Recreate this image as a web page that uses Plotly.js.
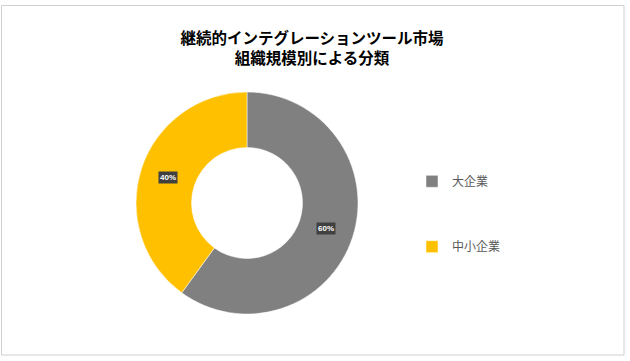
<!DOCTYPE html>
<html>
<head>
<meta charset="utf-8">
<script src="https://cdn.plot.ly/plotly-3.0.1.min.js"></script>
<style>html,body{margin:0;padding:0;background:#fff;}#chart{width:630px;height:361px;}</style>
</head>
<body>
<div id="chart"></div>
<script>
// Data
const categories = ['大企業', '中小企業'];
const shares = [60, 40];
const sliceColors = ['#808080', '#FFC000'];
const chartTitle = '継続的インテグレーションツール市場<br>組織規模別による分類';

// Geometry (pixels)
const W = 630, H = 361;
const cx = 247, cy = 203, R = 111, holeFrac = 0.5;

// Legend entries: pad labels so entries are spaced like the reference
const legendLabels = categories.map(c => c + '<br> <br> <br> ');

// Data-label annotations positioned from the values (mid-angle of each slice, mid-ring radius)
const total = shares.reduce((a, b) => a + b, 0);
const rMid = R * (1 + holeFrac) / 2;
let cum = 0;
const labelAnnotations = shares.map((v, i) => {
  const mid = (cum + v / 2) / total * 2 * Math.PI;
  cum += v;
  const px = cx + rMid * Math.sin(mid);
  const py = cy - rMid * Math.cos(mid);
  return {
    x: px / W, y: 1 - py / H, xref: 'paper', yref: 'paper',
    text: '<b>' + Math.round(v / total * 100) + '%</b>',
    showarrow: false,
    font: {family: 'Liberation Sans, Arial, sans-serif', size: 8, color: '#ffffff'},
    bgcolor: '#404040', borderpad: 1,
    xanchor: 'center', yanchor: 'middle'
  };
});

const trace = {
  type: 'pie',
  labels: legendLabels,
  values: shares,
  hole: holeFrac,
  sort: false,
  direction: 'clockwise',
  rotation: 0,
  textinfo: 'none',
  hoverinfo: 'none',
  marker: {colors: sliceColors, line: {color: '#ffffff', width: 0.5}},
  domain: {x: [(cx - R) / W, (cx + R) / W], y: [1 - (cy + R) / H, 1 - (cy - R) / H]}
};

const layout = {
  width: W, height: H,
  margin: {l: 0, r: 0, t: 0, b: 0},
  paper_bgcolor: '#ffffff',
  title: {
    text: '<b>' + chartTitle + '</b>',
    font: {family: 'Noto Sans CJK JP, sans-serif', size: 15.5, color: '#000000'},
    x: 312 / W, xref: 'paper', xanchor: 'center',
    y: 1 - 44 / H, yref: 'paper', yanchor: 'middle'
  },
  showlegend: true,
  legend: {
    x: 412 / W, y: 1 - 167 / H, xanchor: 'left', yanchor: 'top',
    font: {family: 'Noto Sans CJK JP, sans-serif', size: 12, color: '#595959'},
    valign: 'top', itemwidth: 30, traceorder: 'normal'
  },
  annotations: labelAnnotations,
  shapes: [{
    type: 'rect', xref: 'paper', yref: 'paper',
    x0: 1.5 / W, x1: 624 / W, y0: 1 - 355 / H, y1: 1 - 5.5 / H,
    line: {color: '#d0d0d0', width: 1}
  }]
};

Plotly.newPlot('chart', [trace], layout, {displayModeBar: false, staticPlot: true});
</script>
</body>
</html>
